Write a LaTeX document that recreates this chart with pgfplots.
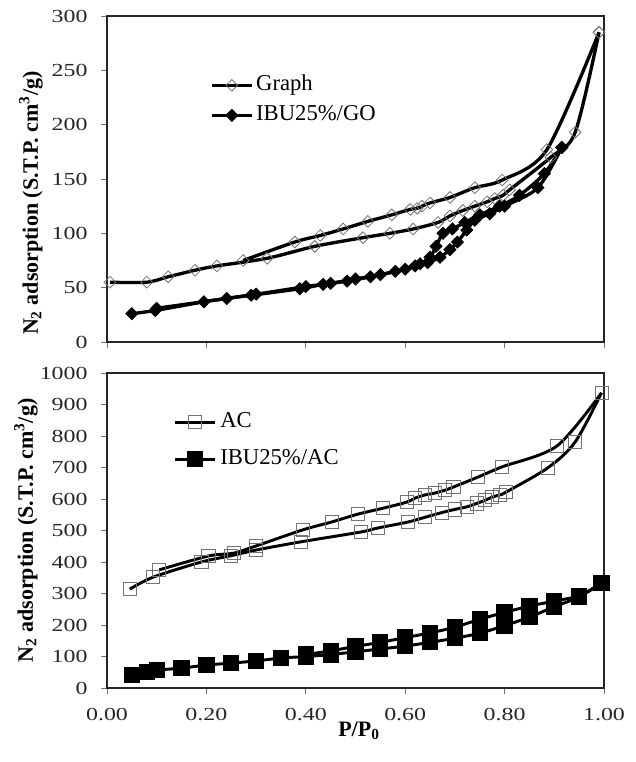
\documentclass[border=0pt]{standalone}
\usepackage{fontspec}
\setmainfont{Liberation Serif}
\newfontfamily\tickfont[FakeStretch=1.3]{Liberation Serif}
\usepackage{pgfplots}
\pgfplotsset{compat=1.18}

\begin{document}
\begin{tikzpicture}
\useasboundingbox (-80.25pt,-55.5pt) rectangle (396pt,516pt);
\pgfplotsset{
  myaxis/.style={
    scale only axis, width=372.75pt,
    xmin=0, xmax=1, xtick={0,0.2,0.4,0.6,0.8,1.0},
    clip=false,
    tick align=outside, xtick pos=bottom, ytick pos=left,
    major tick length=4.5pt,
    every tick/.style={black!55, line width=0.7pt},
    axis line style={black!85, line width=1.3pt},
    tick label style={font=\tickfont\fontsize{13.8}{16}\selectfont, black!85},
    yticklabel style={xshift=-6.5pt},
    xticklabel style={yshift=-7.5pt},
    /pgf/number format/assume math mode=true,
    /pgf/number format/1000 sep={},
    legend cell align=left,
    legend image code/.code={\draw[mark repeat=2,mark phase=2,##1] plot coordinates {(0pt,0pt) (15pt,0pt) (30pt,0pt)};},
  },
  gline/.style={black, line width=2.5pt, smooth, tension=0.5},
  opendia/.style={gline, mark=square, mark size=3.1pt, mark options={rotate=45, draw=black!55, fill=none, line width=0.6pt, solid}},
  filldia/.style={gline, mark=square*, mark size=3.2pt, mark options={rotate=45, draw=black, fill=black, line width=0.6pt, solid}},
  opensq/.style={gline, line width=2.2pt, mark=square, mark size=4.9pt, mark options={draw=black!55, fill=none, line width=0.6pt, solid}},
  fillsq/.style={gline, line width=2.2pt, mark=square*, mark size=5pt, mark options={draw=black, fill=black, solid}},
}

% ---------------- top panel ----------------
\begin{axis}[myaxis,
  at={(0pt,259.5pt)}, anchor=south west, height=244.5pt,
  ymin=0, ymax=300, ytick={0,50,100,150,200,250,300},
  xticklabels={},
  ylabel={\textbf{N\textsubscript{2} adsorption (S.T.P. cm\textsuperscript{3}/g)}},
  ylabel style={at={(axis description cs:-0.153,0.426)}, anchor=center, font=\fontsize{16.5}{20}\selectfont},
  legend style={at={(axis description cs:0.207,0.8207)}, anchor=north west, draw=none, fill=none, inner sep=0pt,
    font=\fontsize{17}{20}\selectfont, row sep=6.5pt, column sep=2pt,
    nodes={inner sep=0pt, text height=12pt, text depth=4pt}},
]
\addplot[opendia] coordinates {
(0.006,55) (0.080,55) (0.123,60) (0.177,66) (0.221,70) (0.322,77) (0.418,88)
(0.515,96) (0.569,100) (0.616,104) (0.666,110) (0.690,116) (0.716,121) (0.740,125)
(0.765,129) (0.780,132) (0.797,135) (0.810,140) (0.893,170) (0.942,193) (0.990,285)
};
\addlegendentry{Graph}
\addplot[opendia, forget plot] coordinates {
(0.990,285) (0.885,177) (0.795,149) (0.740,142) (0.690,133) (0.650,128) (0.634,125)
(0.624,123) (0.610,122) (0.573,117) (0.525,111) (0.475,104) (0.429,98) (0.378,92) (0.274,75)
};
\addplot[filldia] coordinates {
(0.050,26) (0.097,29) (0.195,37) (0.241,40) (0.290,43) (0.388,49) (0.435,53)
(0.483,56) (0.530,60) (0.580,65) (0.620,70) (0.645,73) (0.670,78) (0.690,85)
(0.705,92) (0.724,103) (0.740,112) (0.770,118) (0.800,125) (0.867,142) (0.915,179)
};
\addlegendentry{IBU25\%/GO}
\addplot[filldia, forget plot] coordinates {
(0.915,179) (0.880,155) (0.830,135) (0.790,125) (0.750,117) (0.720,110) (0.695,104)
(0.676,100) (0.662,88) (0.650,78) (0.630,72) (0.600,67) (0.550,62) (0.500,58)
(0.450,54) (0.400,51) (0.300,44) (0.100,31)
};
\end{axis}

% ---------------- bottom panel ----------------
\begin{axis}[myaxis,
  at={(0pt,0pt)}, anchor=south west, height=236.25pt,
  ymin=0, ymax=1000, ytick={0,100,200,300,400,500,600,700,800,900,1000},
  xticklabel style={/pgf/number format/.cd, fixed, fixed zerofill, precision=2},
  xlabel={\textbf{P/P\textsubscript{0}}},
  xlabel style={at={(axis description cs:0.507,0)}, anchor=center, yshift=-32pt, font=\fontsize{16.5}{20}\selectfont},
  ylabel={\textbf{N\textsubscript{2} adsorption (S.T.P. cm\textsuperscript{3}/g)}},
  ylabel style={at={(axis description cs:-0.163,0.5)}, anchor=center, font=\fontsize{16.5}{20}\selectfont},
  legend style={at={(axis description cs:0.133,0.878)}, anchor=north west, draw=none, fill=none, inner sep=0pt,
    font=\fontsize{17}{20}\selectfont, row sep=11.75pt, column sep=3pt,
    nodes={inner sep=0pt, text height=12pt, text depth=4pt}},
]
\addplot[opensq] coordinates {
(0.046,314) (0.093,352) (0.190,400) (0.250,420) (0.300,438) (0.390,464) (0.510,495)
(0.545,508) (0.606,527) (0.640,542) (0.674,557) (0.700,567) (0.724,575) (0.744,586)
(0.761,596) (0.775,606) (0.790,613) (0.803,622) (0.887,699) (0.942,781) (0.995,937)
};
\addlegendentry{AC}
\addplot[opensq, forget plot] coordinates {
(0.995,937) (0.905,768) (0.795,702) (0.747,670) (0.697,638) (0.680,628) (0.660,619)
(0.640,613) (0.620,603) (0.603,590) (0.556,571) (0.505,552) (0.452,527) (0.394,502)
(0.300,451) (0.255,428) (0.204,419) (0.105,375)
};
\addplot[fillsq] coordinates {
(0.05,42) (0.08,51) (0.10,57) (0.15,63) (0.20,73) (0.25,79) (0.30,86) (0.35,95)
(0.40,100) (0.45,106) (0.50,115) (0.55,124) (0.60,133) (0.65,145) (0.70,158)
(0.75,174) (0.80,198) (0.85,225) (0.90,258) (0.95,289) (0.995,333)
};
\addlegendentry{IBU25\%/AC}
\addplot[fillsq, forget plot] coordinates {
(0.995,333) (0.95,293) (0.90,276) (0.85,260) (0.80,240) (0.75,218) (0.70,193)
(0.65,175) (0.60,160) (0.55,145) (0.50,132) (0.45,118) (0.40,106)
};
\end{axis}
\end{tikzpicture}
\end{document}
